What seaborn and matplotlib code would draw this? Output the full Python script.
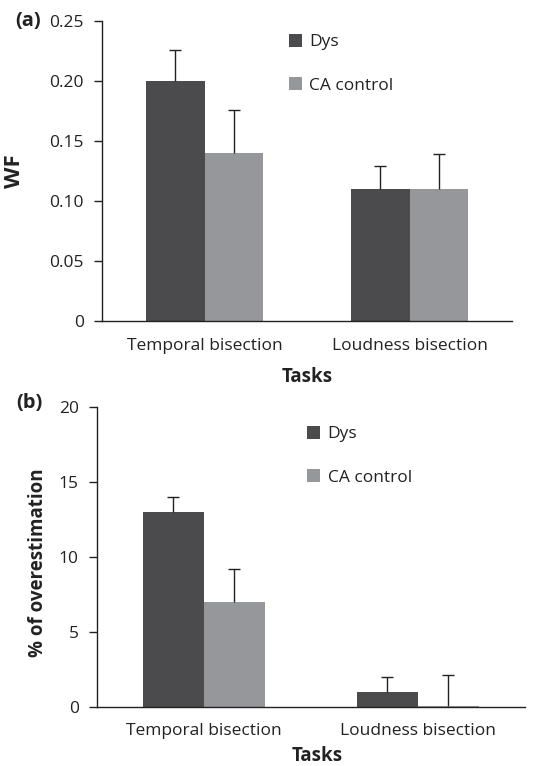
import matplotlib

matplotlib.use("Agg")
import matplotlib.pyplot as plt
import pandas as pd
import seaborn as sns

tasks = ["Temporal bisection", "Loudness bisection"]
groups = ["Dys", "CA control"]

wf_dys = [0.20, 0.11]
wf_ca = [0.14, 0.11]
wf_dys_err = [0.026, 0.019]
wf_ca_err = [0.036, 0.029]

over_dys = [13.0, 1.0]
over_ca = [7.0, 0.05]
over_dys_err = [1.0, 1.0]
over_ca_err = [2.2, 2.1]

sns.set_theme(style="white")
plt.rcParams["font.family"] = ["Open Sans", "DejaVu Sans"]

palette = {"Dys": "#4b4b4d", "CA control": "#96979a"}
ink = "#222222"


def make_df(dys, ca, dys_err, ca_err):
    rows = []
    for i, t in enumerate(tasks):
        rows.append({"task": t, "group": "Dys", "value": dys[i], "err": dys_err[i]})
        rows.append({"task": t, "group": "CA control", "value": ca[i], "err": ca_err[i]})
    return pd.DataFrame(rows)


def draw_panel(ax, df, ylim, yticks, yticklabels, leg_anchor, xlab_coords):
    sns.barplot(data=df, x="task", y="value", hue="group", hue_order=groups,
                order=tasks, palette=palette, width=0.57, errorbar=None,
                saturation=1, ax=ax, linewidth=0)
    # upper-only error bars at the centres of the drawn bars
    for grp, container in zip(groups, ax.containers):
        sub = df[df["group"] == grp].set_index("task").loc[tasks]
        xs = [p.get_x() + p.get_width() / 2 for p in container.patches]
        _, caps, _ = ax.errorbar(xs, sub["value"], yerr=[[0] * len(xs), sub["err"]], fmt="none",
                                 ecolor=ink, elinewidth=1.0, capsize=4.5, capthick=1.0)
        for cap in caps:
            if list(cap.get_ydata()) == list(sub["value"]):
                cap.set_visible(False)
    ax.set_xlim(-0.5, 1.5)
    ax.set_ylim(*ylim)
    ax.set_yticks(yticks)
    ax.set_yticklabels(yticklabels)
    ax.set_xticks([-0.5, 0.5, 1.5], minor=True)
    ax.tick_params(axis="x", which="major", length=0, pad=12, labelsize=12.5, colors=ink)
    ax.tick_params(axis="x", which="minor", length=6, width=1, color=ink, direction="out")
    ax.tick_params(axis="y", length=6, width=1, color=ink, direction="out",
                   left=True, pad=7, labelsize=12.5, labelcolor=ink)
    sns.despine(ax=ax)
    for s in ("left", "bottom"):
        ax.spines[s].set_color(ink)
        ax.spines[s].set_linewidth(1.0)
    ax.set_xlabel("Tasks", fontsize=13.5, fontweight="bold", color=ink)
    ax.xaxis.set_label_coords(*xlab_coords)
    ax.legend(frameon=False, loc="upper left", bbox_to_anchor=leg_anchor,
              handlelength=0.75, handleheight=0.75, handletextpad=0.45,
              labelspacing=1.55, fontsize=12.5, borderaxespad=0, borderpad=0,
              labelcolor=ink)


fig = plt.figure(figsize=(5.34, 7.66), dpi=100)
ax_a = fig.add_axes([0.191, 0.581, 0.768, 0.3916])
ax_b = fig.add_axes([0.1816, 0.0774, 0.8014, 0.3909])

draw_panel(ax_a, make_df(wf_dys, wf_ca, wf_dys_err, wf_ca_err), (0, 0.25),
           [0, 0.05, 0.10, 0.15, 0.20, 0.25], ["0", "0.05", "0.10", "0.15", "0.20", "0.25"],
           (0.455, 0.957), (0.5, -0.153))
ax_a.set_ylabel("WF", fontsize=16, fontweight="bold", color=ink)
draw_panel(ax_b, make_df(over_dys, over_ca, over_dys_err, over_ca_err), (0, 20),
           [0, 5, 10, 15, 20], ["0", "5", "10", "15", "20"],
           (0.49, 0.938), (0.514, -0.13))
ax_b.set_ylabel("% of overestimation", fontsize=13.5, fontweight="bold", color=ink)
ax_a.yaxis.set_label_coords(-0.188, 0.5)
ax_b.yaxis.set_label_coords(-0.114, 0.48)

fig.text(0.028, 0.973, "(a)", fontsize=14.5, fontweight="bold", color=ink, va="center")
fig.text(0.030, 0.474, "(b)", fontsize=14.5, fontweight="bold", color=ink, va="center")

fig.savefig("out.png", dpi=100)
